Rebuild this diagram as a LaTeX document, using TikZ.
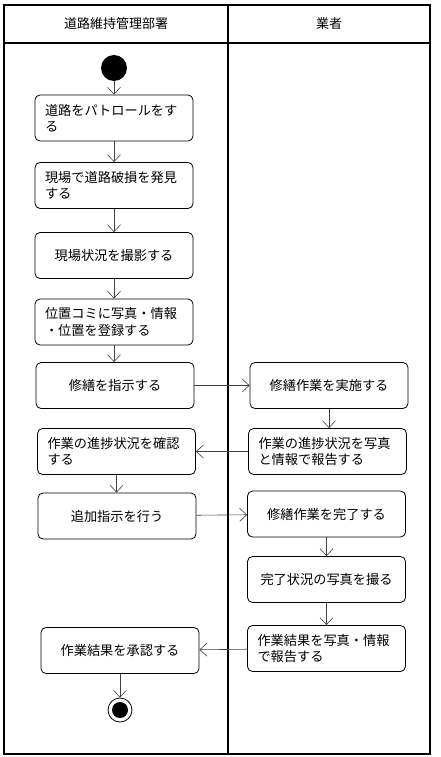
\documentclass[tikz,border=0pt]{standalone}
\usepackage{fontspec}
\newfontfamily\jpfont{Noto Sans CJK JP}
\usetikzlibrary{arrows.meta}

\tikzset{
    act/.style={draw, thick, rounded corners=5pt, text width=138pt, inner xsep=10pt,
        inner ysep=4pt, minimum height=46pt, font=\jpfont\fontsize{13.2}{16.5}\selectfont},
    flow/.style={draw=black!75, semithick, -{Straight Barb[length=7pt, width=13pt]}},
    lane/.style={line width=1.4pt},
    startnode/.style={circle, fill=black, minimum size=26pt, inner sep=0pt},
    endnode/.style={circle, draw, thick, minimum size=24pt, inner sep=0pt,
        path picture={\fill (path picture bounding box.center) circle (8pt);}},
    lanetitle/.style={font=\jpfont\fontsize{13}{15}\selectfont}
}

\begin{document}
\begin{tikzpicture}[x=1pt, y=-1pt]
    \useasboundingbox (0,0) rectangle (441,757);

    % Draw swimlanes
    \draw [lane] (4,5) rectangle (430,754);
    \draw [lane] (4,43) -- (430,43);
    \draw [lane] (228,5) -- (228,754);
    \node [lanetitle] (dept) at (116,24) {道路維持管理部署};
    \node [lanetitle] (vendor) at (329,24) {業者};

    % Draw left lane
    \node [startnode] (start) at (114,68) {};
    \node [act, align=left] (patrol) at (114,118) {道路をパトロールをす\\る};
    \node [act, align=left] (find) at (114,185.5) {現場で道路破損を発見\\する};
    \node [act, align=center] (photo) at (114,255.5) {現場状況を撮影する};
    \node [act, align=left] (register) at (114,322) {位置コミに写真・情報\\・位置を登録する};
    \node [act, align=center] (order) at (115,385.5) {修繕を指示する};
    \node [act, align=left] (check) at (116.5,451.5) {作業の進捗状況を確認\\する};
    \node [act, align=center] (extra) at (117,516) {追加指示を行う};
    \node [act, align=center] (approve) at (120,650.5) {作業結果を承認する};
    \node [endnode] (stop) at (120,710) {};

    % Draw right lane
    \node [act, align=center] (repair) at (329,385.5) {修繕作業を実施する};
    \node [act, align=left] (progress) at (327.5,451.5) {作業の進捗状況を写真\\と情報で報告する};
    \node [act, align=center] (finish) at (326.5,514) {修繕作業を完了する};
    \node [act, align=center] (shot) at (326.5,579.5) {完了状況の写真を撮る};
    \node [act, align=left] (report) at (326.5,648.5) {作業結果を写真・情報\\で報告する};

    % Draw flows
    \draw [flow] (start) -- (patrol);
    \draw [flow] (patrol) -- (find);
    \draw [flow] (find) -- (photo);
    \draw [flow] (photo) -- (register);
    \draw [flow] (register.south) -- (register.south |- order.north);
    \draw [flow] (order) -- (repair);
    \draw [flow] (repair.south) -- (repair.south |- progress.north);
    \draw [flow] (progress) -- (check);
    \draw [flow] (check.south) -- (check.south |- extra.north);
    \draw [flow] (extra) -- (finish);
    \draw [flow] (finish) -- (shot);
    \draw [flow] (shot) -- (report);
    \draw [flow] (report) -- (approve);
    \draw [flow] (approve) -- (stop);

\end{tikzpicture}
\end{document}
